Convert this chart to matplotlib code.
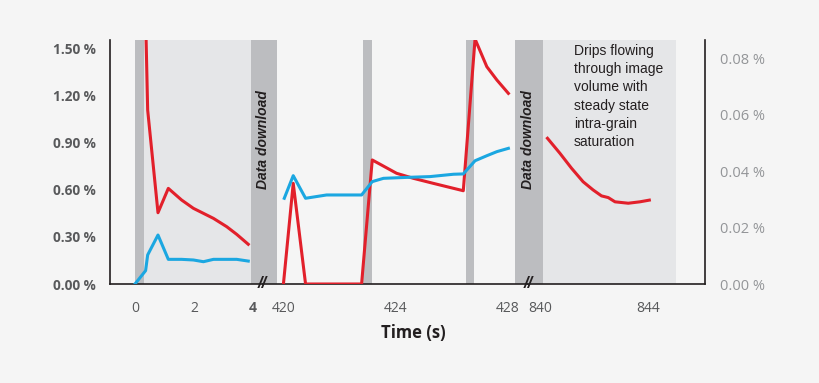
"""Broken-axis time series: strain in three time windows with shaded phases."""
import matplotlib
matplotlib.use("Agg")
import matplotlib.pyplot as plt

# ---- data -------------------------------------------------------------
# segment 1 (0-4 s)
t1_red = [0.36, 0.43, 0.78, 1.13, 1.58, 1.98, 2.66, 3.11, 3.45, 3.84]
v1_red = [1.70, 1.108, 0.454, 0.609, 0.535, 0.482, 0.418, 0.365, 0.316, 0.253]
t1_blue = [0.0, 0.36, 0.43, 0.78, 1.13, 1.58, 1.98, 2.32, 2.66, 3.45, 3.84]
v1_blue = [0.0, 0.085, 0.185, 0.312, 0.157, 0.157, 0.153, 0.142, 0.157, 0.157, 0.146]

# segment 2 (420-428 s)
t2_red = [419.98, 420.33, 420.77, 422.77, 423.15, 424.02, 424.62, 425.33,
          426.40, 426.82, 427.24, 427.60, 428.01]
v2_red = [0.0, 0.641, 0.0, 0.0, 0.790, 0.705, 0.673, 0.641,
          0.594, 1.56, 1.384, 1.299, 1.214]
t2_blue = [420.01, 420.33, 420.77, 421.52, 422.77, 423.15, 423.55, 424.38,
           425.21, 426.05, 426.40, 426.82, 427.24, 427.60, 428.01]
v2_blue = [0.546, 0.690, 0.546, 0.567, 0.567, 0.652, 0.673, 0.679,
           0.684, 0.699, 0.701, 0.785, 0.817, 0.843, 0.864]

# segment 3 (840+ s), right axis
t3_red = [840.28, 840.74, 841.17, 841.60, 841.97, 842.28, 842.53, 842.78,
          843.27, 843.70, 844.05]
v3_red = [0.0516, 0.0463, 0.0410, 0.0362, 0.0333, 0.0312, 0.0306, 0.0291,
          0.0286, 0.0291, 0.0297]

# shaded phases: (segment, start, end, colour key)
bands = [
    (0, 0.0, 0.30, "dark"), (0, 0.30, 3.92, "light"), (0, 3.92, 5.0, "dark"),
    (1, 419.0, 419.75, "dark"), (1, 422.83, 423.15, "dark"),
    (1, 426.48, 426.80, "dark"), (1, 428.23, 429.0, "dark"),
    (2, 839.0, 840.10, "dark"), (2, 840.10, 845.04, "light"),
]

xlims = [(-0.847, 4.33), (419.24, 428.71), (839.56, 846.11)]
xticks = [[0, 2, 4], [420, 424, 428], [840, 844]]
left_ticks = [0.0, 0.3, 0.6, 0.9, 1.2, 1.5]
right_ticks = [0.0, 0.02, 0.04, 0.06, 0.08]

RED = "#e2202b"
BLUE = "#1ba7e1"
BG = "#f5f5f5"
shade = {"dark": "#bcbdc0", "light": "#e5e6e8"}

W, H = 820, 383
fig = plt.figure(figsize=(W / 100, H / 100), dpi=100, facecolor=BG)

# axes pixel extents (left, right)
edges = [(110, 262.7), (262.7, 528), (528, 705)]
top, bottom = 40, 284
axes = []
for (x0, x1) in edges:
    ax = fig.add_axes([x0 / W, 1 - bottom / H, (x1 - x0) / W, (bottom - top) / H])
    ax.set_facecolor("none")
    for s in ax.spines.values():
        s.set_visible(False)
    ax.spines["bottom"].set_visible(True)
    ax.spines["bottom"].set_color("#231f20")
    ax.spines["bottom"].set_linewidth(1.2)
    ax.set_ylim(0, 1.554)
    ax.tick_params(length=0)
    axes.append(ax)

for i, ax in enumerate(axes):
    ax.set_xlim(*xlims[i])
    ax.set_xticks(xticks[i])
    ax.set_xticklabels([str(x) for x in xticks[i]], fontfamily="Open Sans",
                       fontsize=10, color="#58595b")
    ax.tick_params(axis="x", pad=12)
    if i > 0:
        ax.set_yticks([])

for seg, a, b, key in bands:
    axes[seg].axvspan(a, b, color=shade[key], lw=0, zorder=0)

ax1, ax2, ax3 = axes
ax1.get_xticklabels()[2].set_fontweight("bold")

ax1.spines["left"].set_visible(True)
ax1.spines["left"].set_color("#231f20")
ax1.spines["left"].set_linewidth(1.2)
ax1.set_yticks(left_ticks)
ax1.set_yticklabels([f"{v:.2f} %" for v in left_ticks], fontfamily="Open Sans",
                    fontsize=9.8, fontweight="bold", color="#58595b")
ax1.tick_params(axis="y", pad=10)

ax1.plot(t1_red, v1_red, color=RED, lw=2.2, zorder=3)
ax1.plot(t1_blue, v1_blue, color=BLUE, lw=2.2, zorder=3)
ax2.plot(t2_red, v2_red, color=RED, lw=2.2, zorder=3, clip_on=True)
ax2.plot(t2_blue, v2_blue, color=BLUE, lw=2.2, zorder=3)

ax3.spines["right"].set_visible(True)
ax3.spines["right"].set_color("#231f20")
ax3.spines["right"].set_linewidth(1.2)
axr = ax3.twinx()
axr.set_facecolor("none")
for s in axr.spines.values():
    s.set_visible(False)
axr.set_ylim(0, 0.0864)
axr.set_yticks(right_ticks)
axr.set_yticklabels([f"{v:.2f} %" for v in right_ticks], fontfamily="Open Sans",
                    fontsize=10.5, color="#939598")
axr.tick_params(axis="y", length=0, pad=11)
axr.plot(t3_red, v3_red, color=RED, lw=2.2, zorder=3)

# "Data download" labels across the two breaks
for x, y in [(263.5, 140), (528.5, 140)]:
    fig.text(x / W, 1 - y / H, "Data download", rotation=90, ha="center",
             va="center", fontsize=10, fontstyle="italic", fontweight="bold",
             fontfamily="Liberation Sans", color="#231f20")

# break marks
for x in [262.7, 528]:
    fig.text(x / W, 1 - 284 / H, "//", ha="center", va="center", fontsize=12,
             fontstyle="italic", fontweight="bold", color="#231f20",
             fontfamily="Liberation Sans")

fig.text(574 / W, 1 - 44 / H,
         "Drips flowing\nthrough image\nvolume with\nsteady state\nintra-grain\nsaturation",
         ha="left", va="top", fontsize=10, fontfamily="Liberation Sans",
         color="#231f20", linespacing=1.38)

fig.text(413 / W, 1 - 333 / H, "Time (s)", ha="center", va="center",
         fontsize=12, fontweight="bold", fontfamily="Open Sans", color="#231f20")

fig.savefig("out.png", dpi=100, facecolor=BG)
